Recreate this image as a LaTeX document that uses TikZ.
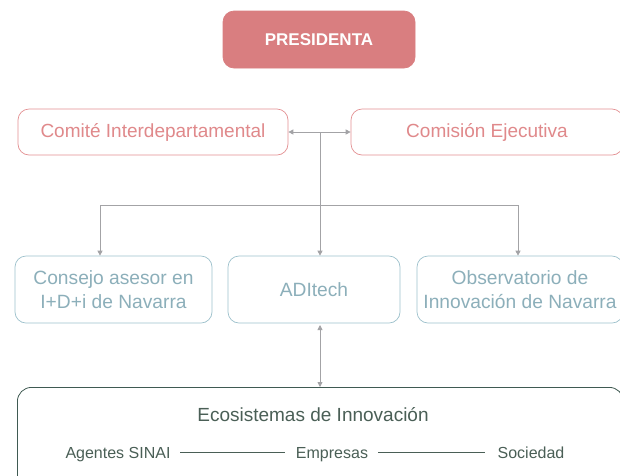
\documentclass[tikz,border=0pt]{standalone}
\usepackage{fontspec}
\setmainfont{Liberation Sans}
\usetikzlibrary{arrows.meta}
\definecolor{presfill}{HTML}{D97E80}
\definecolor{redline}{HTML}{E39092}
\definecolor{redtext}{HTML}{E0898B}
\definecolor{blueline}{HTML}{9DC1CC}
\definecolor{bluetext}{HTML}{8CAFBA}
\definecolor{greenline}{HTML}{3F5A52}
\definecolor{greentext}{HTML}{4A5F56}
\definecolor{conn}{HTML}{A3A3A6}
\begin{document}
\begin{tikzpicture}[x=1pt,y=-1pt,
  box/.style={draw, rounded corners=11pt, line width=0.7pt, align=center, inner sep=0pt},
  redbox/.style={box, draw=redline, text=redtext, font=\fontsize{19}{22}\selectfont},
  bluebox/.style={box, draw=blueline, text=bluetext, font=\fontsize{19.2}{24}\selectfont},
  conline/.style={draw=conn, line width=0.8pt},
  tip/.style={-{Triangle[length=5pt,width=5pt]}},
  twotip/.style={{Triangle[length=5pt,width=5pt]}-{Triangle[length=5pt,width=5pt]}},
  ecotext/.style={text=greentext, font=\fontsize{16}{19}\selectfont, inner sep=0pt, anchor=base}
]
\useasboundingbox (0,0) rectangle (620,475);
\fill[white] (0,0) rectangle (620,475);

\node[box, fill=presfill, draw=presfill, text=white, font=\bfseries\fontsize{17}{20}\selectfont,
  minimum width=192pt, minimum height=57pt] (pres) at (319,39.5) {PRESIDENTA};

\node[redbox, minimum width=270pt, minimum height=46pt] (comite) at (153,132) {Comité Interdepartamental};
\node[redbox, minimum width=272pt, minimum height=46pt] (comision) at (487,132) {Comisión Ejecutiva};

\node[bluebox, minimum width=197pt, minimum height=67pt] (consejo) at (113.5,289.5) {Consejo asesor en\\I+D+i de Navarra};
\node[bluebox, minimum width=172pt, minimum height=67pt] (aditech) at (314,289.5) {ADItech};
\node[bluebox, minimum width=206pt, minimum height=67pt] (obs) at (520,289.5) {Observatorio de\\Innovación de Navarra};

\node[box, draw=greenline, rounded corners=14pt, line width=0.8pt, minimum width=606pt, minimum height=110pt,
  anchor=north west] (eco) at (17,387) {};

\coordinate (hub) at (320,132);
\coordinate (splitL) at (100,205);
\coordinate (splitR) at (518,205);

\draw[conline, twotip] (comite.east) -- (comision.west);
\draw[conline, tip] (hub) -- (hub |- aditech.north);
\draw[conline, tip] (splitL) -- (splitL |- consejo.north);
\draw[conline, tip] (splitR) -- (splitR |- obs.north);
\draw[conline] (splitL) -- (splitR);
\draw[conline, twotip] (320,325) coordinate (a1) -- (320,387) coordinate (a2);

\node[ecotext, font=\fontsize{19}{22}\selectfont] (ecotitle) at (313,421) {Ecosistemas de Innovación};
\node[ecotext] (agentes) at (118,458) {Agentes SINAI};
\node[ecotext] (empresas) at (332,458) {Empresas};
\node[ecotext] (sociedad) at (531,458) {Sociedad};
\coordinate (l1a) at (180,452.5);
\coordinate (l1b) at (285,452.5);
\coordinate (l2a) at (378,452.5);
\coordinate (l2b) at (485,452.5);
\draw[draw=greentext, line width=0.7pt] (l1a) -- (l1b);
\draw[draw=greentext, line width=0.7pt] (l2a) -- (l2b);
\end{tikzpicture}
\end{document}
